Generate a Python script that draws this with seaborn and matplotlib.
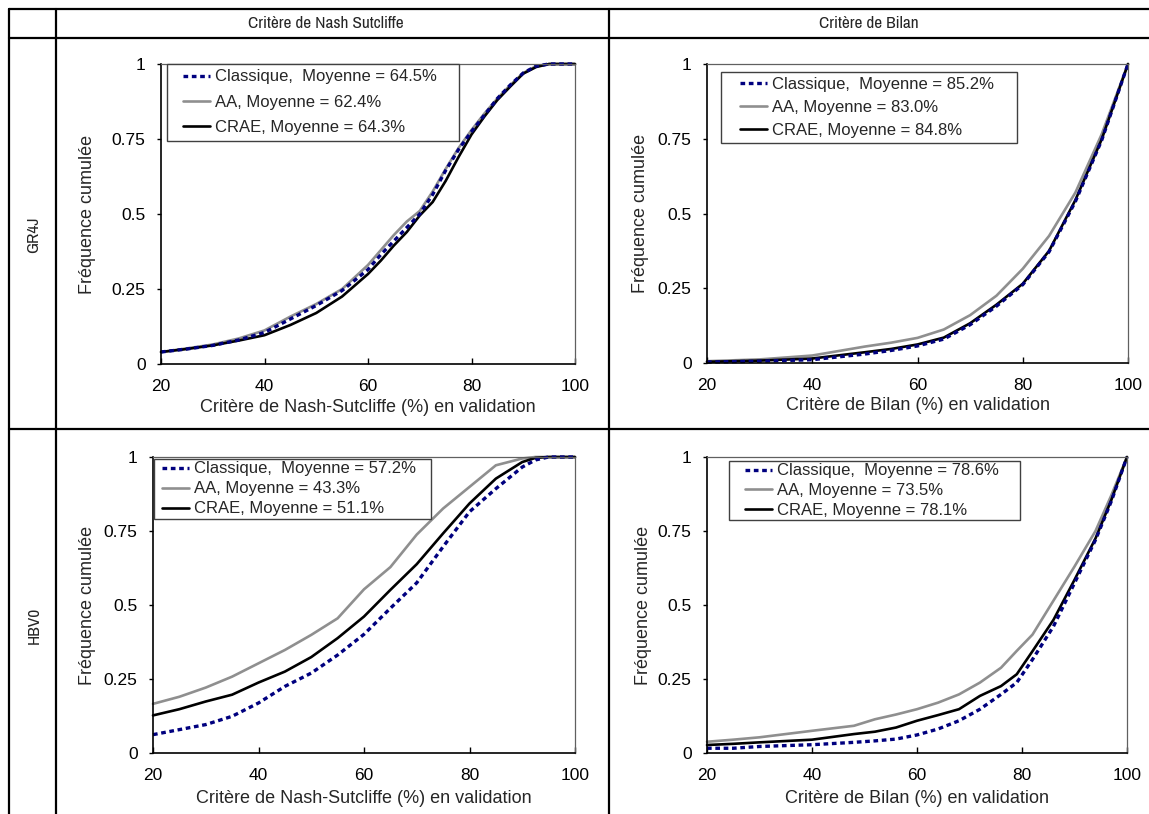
import numpy as np
import matplotlib
matplotlib.use("Agg")
import matplotlib.pyplot as plt
import seaborn as sns
from matplotlib.lines import Line2D
from matplotlib.legend_handler import HandlerLine2D
from matplotlib import font_manager

# ---------------- data ----------------
col_titles = ["Critère de Nash Sutcliffe", "Critère de Bilan"]
row_titles = ["GR4J", "HBV0"]
x_titles = ["Critère de Nash-Sutcliffe (%) en validation",
            "Critère de Bilan (%) en validation"]
y_title = "Fréquence cumulée"
series_names = ["Classique", "AA", "CRAE"]
name_seps = [",  ", ", ", ", "]

x_ticks = [20, 40, 60, 80, 100]
y_ticks = [0, 0.25, 0.5, 0.75, 1]
y_tick_labels = ["0", "0.25", "0.5", "0.75", "1"]

# GR4J - Nash-Sutcliffe
gr4j_nse_x = [20, 25, 30, 35, 40, 45, 50, 55, 60, 62.5, 65, 67.5, 70, 72.5,
              75, 77.5, 80, 82.5, 85, 87.5, 90, 92.5, 95, 100]
gr4j_nse_classique = [0.040, 0.050, 0.062, 0.080, 0.105, 0.150, 0.195, 0.245, 0.315, 0.365,
                      0.410, 0.455, 0.500, 0.565, 0.645, 0.715, 0.775, 0.830, 0.885, 0.930,
                      0.970, 0.993, 1.0, 1.0]
gr4j_nse_aa = [0.040, 0.052, 0.065, 0.085, 0.112, 0.158, 0.200, 0.250, 0.330, 0.380,
               0.430, 0.475, 0.510, 0.575, 0.650, 0.720, 0.780, 0.835, 0.885, 0.930,
               0.970, 0.993, 1.0, 1.0]
gr4j_nse_crae = [0.040, 0.050, 0.062, 0.078, 0.096, 0.130, 0.170, 0.225, 0.300, 0.345,
                 0.395, 0.440, 0.495, 0.540, 0.610, 0.690, 0.765, 0.825, 0.880, 0.925,
                 0.968, 0.990, 1.0, 1.0]
gr4j_nse_means = [64.5, 62.4, 64.3]

# GR4J - Bilan
gr4j_bil_x = [20, 30, 40, 50, 55, 60, 65, 70, 75, 80, 85, 90, 95, 100]
gr4j_bil_classique = [0.003, 0.006, 0.011, 0.030, 0.042, 0.057, 0.080, 0.128, 0.190, 0.262,
                      0.372, 0.540, 0.745, 1.0]
gr4j_bil_aa = [0.006, 0.012, 0.025, 0.055, 0.068, 0.084, 0.112, 0.160, 0.225, 0.315,
               0.425, 0.570, 0.765, 1.0]
gr4j_bil_crae = [0.004, 0.008, 0.015, 0.036, 0.047, 0.062, 0.085, 0.133, 0.195, 0.265,
                 0.375, 0.545, 0.748, 1.0]
gr4j_bil_means = [85.2, 83.0, 84.8]

# HBV0 - Nash-Sutcliffe
hbv_nse_x = [20, 25, 30, 35, 40, 45, 50, 55, 60, 65, 70, 75, 80, 85, 90, 92.5, 95, 100]
hbv_nse_classique = [0.062, 0.079, 0.096, 0.124, 0.169, 0.225, 0.270, 0.331, 0.401, 0.489,
                     0.575, 0.697, 0.815, 0.893, 0.966, 0.990, 1.0, 1.0]
hbv_nse_aa = [0.166, 0.190, 0.221, 0.258, 0.303, 0.348, 0.399, 0.455, 0.553, 0.628,
              0.738, 0.826, 0.899, 0.972, 0.995, 1.0, 1.0, 1.0]
hbv_nse_crae = [0.127, 0.148, 0.174, 0.197, 0.238, 0.275, 0.324, 0.388, 0.461, 0.551,
                0.638, 0.742, 0.843, 0.927, 0.983, 0.997, 1.0, 1.0]
hbv_nse_means = [57.2, 43.3, 51.1]

# HBV0 - Bilan
hbv_bil_x = [20, 25, 30, 40, 48, 52, 56, 60, 64, 68, 72, 76, 79, 82, 86, 90, 94, 97, 100]
hbv_bil_classique = [0.016, 0.016, 0.022, 0.028, 0.036, 0.041, 0.047, 0.061, 0.081, 0.109,
                     0.148, 0.198, 0.238, 0.316, 0.428, 0.574, 0.720, 0.850, 1.0]
hbv_bil_aa = [0.038, 0.045, 0.053, 0.075, 0.092, 0.114, 0.130, 0.148, 0.170, 0.198,
              0.238, 0.288, 0.345, 0.400, 0.515, 0.630, 0.750, 0.870, 1.0]
hbv_bil_crae = [0.027, 0.031, 0.036, 0.045, 0.064, 0.072, 0.086, 0.109, 0.128, 0.148,
                0.193, 0.226, 0.266, 0.344, 0.450, 0.585, 0.725, 0.854, 1.0]
hbv_bil_means = [78.6, 73.5, 78.1]

# ---------------- style ----------------
sns.set_theme(style="white")
plt.rcParams["font.family"] = ["Liberation Sans", "DejaVu Sans"]

installed = {f.name for f in font_manager.fontManager.ttflist}
narrow_name = None
for cand in ["Nimbus Sans Narrow", "Liberation Sans Narrow", "Arial Narrow",
             "Archivo Narrow", "Roboto Condensed", "PT Sans Narrow"]:
    if cand in installed:
        narrow_name = cand
        break
narrow_family = [narrow_name, "Liberation Sans", "DejaVu Sans"] if narrow_name \
    else ["Liberation Sans", "DejaVu Sans"]

W, H = 1149, 814
DPI = 100
fig = plt.figure(figsize=(W / DPI, H / DPI), dpi=DPI)
fig.patch.set_facecolor("white")


def px_rect(l, t, r, b):
    return [l / W, 1 - b / H, (r - l) / W, (b - t) / H]


def px2pt(v):
    return v * 72.0 / DPI


class OffsetLineHandler(HandlerLine2D):
    """Line handle drawn at the right end of the handle box (Excel-like lead space)."""

    def __init__(self, line_pts, **kw):
        super().__init__(**kw)
        self.line_pts = line_pts

    def get_xdata(self, legend, xdescent, ydescent, width, height, fontsize):
        x1 = -xdescent + width
        x0 = x1 - self.line_pts
        xdata = np.array([x0, x1])
        return xdata, xdata


colors = ["#00007f", "#8f8f8f", "#000000"]
styles = [(0, (1.4, 1.1)), "-", "-"]
widths = [2.4, 1.9, 1.9]
LEG_FS = 12

panels = [
    dict(rect=(161, 64, 575, 364), x=gr4j_nse_x,
         ys=[gr4j_nse_classique, gr4j_nse_aa, gr4j_nse_crae], means=gr4j_nse_means,
         xt=x_titles[0], leg=(167, 64, 459), ls=0.62, bp=0.33, lead=16,
         ylab=-0.157, xlab=-0.115),
    dict(rect=(707, 64, 1128, 363), x=gr4j_bil_x,
         ys=[gr4j_bil_classique, gr4j_bil_aa, gr4j_bil_crae], means=gr4j_bil_means,
         xt=x_titles[1], leg=(721, 72, 1017), ls=0.5, bp=0.27, lead=19,
         ylab=-0.138, xlab=-0.115),
    dict(rect=(153, 457, 575, 753), x=hbv_nse_x,
         ys=[hbv_nse_classique, hbv_nse_aa, hbv_nse_crae], means=hbv_nse_means,
         xt=x_titles[0], leg=(154, 459, 431), ls=0.3, bp=0.15, lead=8,
         ylab=-0.135, xlab=-0.125),
    dict(rect=(707, 457, 1127, 753), x=hbv_bil_x,
         ys=[hbv_bil_classique, hbv_bil_aa, hbv_bil_crae], means=hbv_bil_means,
         xt=x_titles[1], leg=(729, 461, 1020), ls=0.27, bp=0.15, lead=16,
         ylab=-0.131, xlab=-0.125),
]

LINE_PX = 27

for p in panels:
    l, t, r, b = p["rect"]
    ax = fig.add_axes(px_rect(l, t, r, b))
    for idx in [1, 2, 0]:
        lab = f"{series_names[idx]}{name_seps[idx]}Moyenne = {p['means'][idx]:.1f}%"
        sns.lineplot(x=p["x"], y=p["ys"][idx], ax=ax, color=colors[idx],
                     linewidth=widths[idx], linestyle=styles[idx], label=lab,
                     sort=False, estimator=None, clip_on=False)
    h, lb = ax.get_legend_handles_labels()
    lookup = {lab: hh for hh, lab in zip(h, lb)}
    labs = [f"{series_names[i]}{name_seps[i]}Moyenne = {p['means'][i]:.1f}%" for i in range(3)]

    lx0, ly0, lx1 = p["leg"]
    bx = (lx0 - l) / (r - l)
    by = (b - ly0) / (b - t)
    bw = (lx1 - lx0) / (r - l)
    bp_pts = p["bp"] * LEG_FS
    lead_pts = px2pt(p["lead"]) - bp_pts
    line_pts = px2pt(LINE_PX)
    hl = (lead_pts + line_pts) / LEG_FS
    handler = OffsetLineHandler(line_pts)
    leg = ax.legend([lookup[s] for s in labs], labs, loc="upper left",
                    bbox_to_anchor=(bx, by, bw, 0), mode="expand",
                    borderaxespad=0, fontsize=LEG_FS,
                    frameon=True, fancybox=False, framealpha=1,
                    edgecolor="#404040", handlelength=hl, handletextpad=0.3,
                    labelspacing=p["ls"], borderpad=p["bp"],
                    handler_map={Line2D: handler})
    leg.get_frame().set_linewidth(1.0)

    ax.set_xlim(20, 100)
    ax.set_ylim(0, 1)
    ax.set_xticks(x_ticks)
    ax.set_xticklabels([str(v) for v in x_ticks])
    ax.set_yticks(y_ticks)
    ax.set_yticklabels(y_tick_labels)
    ax.tick_params(axis="x", direction="in", length=4, width=1, pad=11,
                   labelsize=12.5, colors="black", bottom=True)
    ax.tick_params(axis="y", direction="out", length=3, width=1, pad=8,
                   labelsize=12.5, colors="black", left=True)
    ax.set_xlabel(p["xt"], fontsize=13)
    ax.set_ylabel(y_title, fontsize=13)
    ax.xaxis.set_label_coords(0.5, p["xlab"])
    ax.yaxis.set_label_coords(p["ylab"], 0.5)
    for s in ["left", "bottom"]:
        ax.spines[s].set_color("black")
        ax.spines[s].set_linewidth(1.2)
    for s in ["top", "right"]:
        ax.spines[s].set_color("#606060")
        ax.spines[s].set_linewidth(0.9)
    ax.grid(False)


# ---------------- table frame ----------------
def hline(y, x0, x1):
    fig.add_artist(Line2D([x0 / W, x1 / W], [1 - y / H, 1 - y / H],
                          transform=fig.transFigure, color="black", lw=1.6))


def vline(x, y0, y1):
    fig.add_artist(Line2D([x / W, x / W], [1 - y0 / H, 1 - y1 / H],
                          transform=fig.transFigure, color="black", lw=1.6))


hline(9, 9, W)
hline(38, 9, W)
hline(429, 9, W)
vline(9, 9, H)
vline(56, 9, H)
vline(609, 9, H)

# header / row label texts, sized so the first header is ~155 px wide
probe = fig.text(0, 0, col_titles[0], fontsize=12, family=narrow_family)
renderer = fig.canvas.get_renderer()
pw = probe.get_window_extent(renderer=renderer).width
probe.remove()
hdr_fs = float(np.clip(12 * 155.0 / pw, 10, 14))

fig.text(326 / W, 1 - 23.5 / H, col_titles[0], ha="center", va="center",
         fontsize=hdr_fs, family=narrow_family)
fig.text(869 / W, 1 - 23.5 / H, col_titles[1], ha="center", va="center",
         fontsize=hdr_fs, family=narrow_family)
fig.text(34 / W, 1 - 235 / H, row_titles[0], ha="center", va="center",
         fontsize=hdr_fs, family=narrow_family, rotation=90)
fig.text(34 / W, 1 - 625 / H, row_titles[1], ha="center", va="center",
         fontsize=hdr_fs, family=narrow_family, rotation=90)

fig.savefig("out.png", dpi=DPI, facecolor="white")
